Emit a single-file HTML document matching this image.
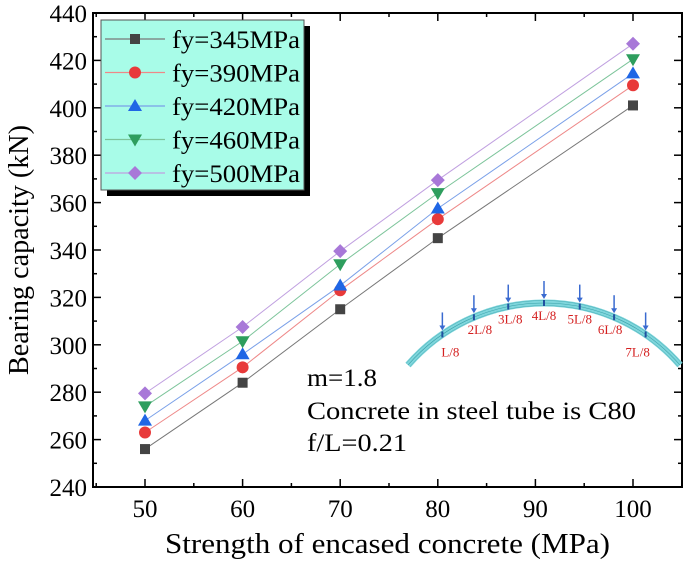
<!DOCTYPE html>
<html><head><meta charset="utf-8"><style>
body{margin:0;background:#fff}
svg{display:block;font-family:"Liberation Serif",serif}
</style></head><body>
<svg id="chart" width="685" height="561" viewBox="0 0 685 561" xmlns="http://www.w3.org/2000/svg">
<g id="grid"></g>
<g id="series"></g>
<g id="legend"></g>
<g id="arch"></g>
<text x="307" y="386" font-size="25" textLength="70" lengthAdjust="spacingAndGlyphs">m=1.8</text>
<text x="307" y="419" font-size="25" textLength="329" lengthAdjust="spacingAndGlyphs">Concrete in steel tube is C80</text>
<text x="307" y="451" font-size="25" textLength="100" lengthAdjust="spacingAndGlyphs">f/L=0.21</text>
<text x="165" y="553" font-size="28" textLength="445" lengthAdjust="spacingAndGlyphs">Strength of encased concrete (MPa)</text>
<text transform="translate(28,375) rotate(-90)" font-size="28" textLength="250" lengthAdjust="spacingAndGlyphs">Bearing capacity (kN)</text>
</svg>
<script>
const categories=[50,60,70,80,100];
const s345=[256,284,315,345,401];
const s390=[263,290.5,323,353,409.5];
const s420=[268,296,325,357.5,414.5];
const s460=[274,301.5,334,364,420.5];
const s500=[279.5,307.5,339.5,369.5,427];
const seriesNames=["fy=345MPa","fy=390MPa","fy=420MPa","fy=460MPa","fy=500MPa"];
const xTicks=[50,60,70,80,90,100];
const yTicks=[240,260,280,300,320,340,360,380,400,420,440];
const archLabels=["L/8","2L/8","3L/8","4L/8","5L/8","6L/8","7L/8"];

const NS="http://www.w3.org/2000/svg";
const L=93,R=682,T=13,B=487;
const xs=v=>145+(v-50)*9.76;
const ys=v=>487-(v-240)*2.37;
function mk(tag,attrs,parent){const e=document.createElementNS(NS,tag);for(const k in attrs)e.setAttribute(k,attrs[k]);parent.appendChild(e);return e;}
const grid=document.getElementById('grid');
const frame=mk('rect',{x:L,y:T,width:R-L,height:B-T,fill:'none',stroke:'#000','stroke-width':2},grid);


for(let v=45;v<=105;v+=5){const x=xs(v);const len=(v%10===0)?8:4;
 mk('line',{x1:x,y1:B,x2:x,y2:B-len,stroke:'#000','stroke-width':1.5},grid);
 mk('line',{x1:x,y1:T,x2:x,y2:T+len,stroke:'#000','stroke-width':1.5},grid);}
xTicks.forEach(v=>{const t=mk('text',{x:xs(v),y:517,'font-size':25,'text-anchor':'middle'},grid);t.textContent=v;
 
 });
for(let v=240;v<=440;v+=10){const y=ys(v);const len=(v%20===0)?8:4;
 mk('line',{x1:L,y1:y,x2:L+len,y2:y,stroke:'#000','stroke-width':1.5},grid);
 mk('line',{x1:R,y1:y,x2:R-len,y2:y,stroke:'#000','stroke-width':1.5},grid);}
yTicks.forEach(v=>{const t=mk('text',{x:87,y:ys(v)+9,'font-size':25,'text-anchor':'end'},grid);t.textContent=v;
 
 });

const colors=['#444444','#e83a3a','#1f66e5','#2e9e5e','#a878d8'];
const lineColors=['#777','#e88','#7aa0e8','#7cc49a','#c0a0e0'];
const shapes=['square','circle','up','down','diamond'];
const data=[s345,s390,s420,s460,s500];
function marker(shape,x,y,c,p,name){let e;
 if(shape==='square')e=mk('rect',{x:x-5,y:y-5,width:10,height:10,fill:c},p);
 else if(shape==='circle')e=mk('circle',{cx:x,cy:y,r:6,fill:c},p);
 else if(shape==='up')e=mk('polygon',{points:`${x},${y-7} ${x-7},${y+5} ${x+7},${y+5}`,fill:c},p);
 else if(shape==='down')e=mk('polygon',{points:`${x},${y+7} ${x-7},${y-5} ${x+7},${y-5}`,fill:c},p);
 else e=mk('polygon',{points:`${x},${y-7} ${x+7},${y} ${x},${y+7} ${x-7},${y}`,fill:c},p);
 
 }
const sg=document.getElementById('series');
data.forEach((arr,i)=>{
 const pl=mk('polyline',{points:arr.map((v,j)=>xs(categories[j])+','+ys(v)).join(' '),fill:'none',stroke:lineColors[i],'stroke-width':1},sg);
 
 
 arr.forEach((v,j)=>marker(shapes[i],xs(categories[j]),ys(v),colors[i],sg,'data-point'));
});
const lg=document.getElementById('legend');
mk('rect',{x:107,y:26,width:203,height:170,fill:'#000'},lg);
mk('rect',{x:101,y:20,width:203,height:170,fill:'#a8fce8',stroke:'#555','stroke-width':1},lg);
seriesNames.forEach((n,i)=>{const y=39+i*33.5;
 mk('line',{x1:105,y1:y,x2:165,y2:y,stroke:lineColors[i],'stroke-width':1.2},lg);
 marker(shapes[i],135,y,colors[i],lg,'legend-marker');
 const t=mk('text',{x:172,y:y+9,'font-size':25,textLength:128,lengthAdjust:'spacingAndGlyphs'},lg);t.textContent=n;
 
 });
// arch
const ag=document.getElementById('arch');
const cx=544,r=180,cy=303+r;
const a0=Math.asin(136/r);
const arc=(rr)=>`M${cx-rr*Math.sin(a0)},${cy-rr*Math.cos(a0)} A${rr},${rr} 0 0 1 ${cx+rr*Math.sin(a0)},${cy-rr*Math.cos(a0)}`;
mk('path',{d:arc(r),fill:'none',stroke:'#7fd6dc','stroke-width':7},ag);
mk('path',{d:arc(r),fill:'none',stroke:'#3aa0a8','stroke-width':0.6},ag);
mk('path',{d:arc(r-2.5),fill:'none',stroke:'#3aa0a8','stroke-width':0.4},ag);
mk('path',{d:arc(r+2.5),fill:'none',stroke:'#3aa0a8','stroke-width':0.4},ag);
archLabels.forEach((lab,i)=>{const ang=(-3+i)*0.2;
 const px=cx+r*Math.sin(ang),py=cy-r*Math.cos(ang);
 mk('line',{x1:px,y1:py-3,x2:px,y2:py+3,stroke:'#2050a0','stroke-width':2},ag);
 mk('line',{x1:px,y1:py-22,x2:px,y2:py-8,stroke:'#3a6ad0','stroke-width':1.5},ag);
 mk('polygon',{points:`${px-3},${py-9} ${px+3},${py-9} ${px},${py-4}`,fill:'#3a6ad0'},ag);
 const dx=[8,6,2,0,0,-4,-8][i];
 const t=mk('text',{x:px+dx,y:py+(i===0||i===6?22:17),'font-size':13,fill:'#d42020','text-anchor':'middle'},ag);t.textContent=lab;
 
 });
</script>
</body></html>
